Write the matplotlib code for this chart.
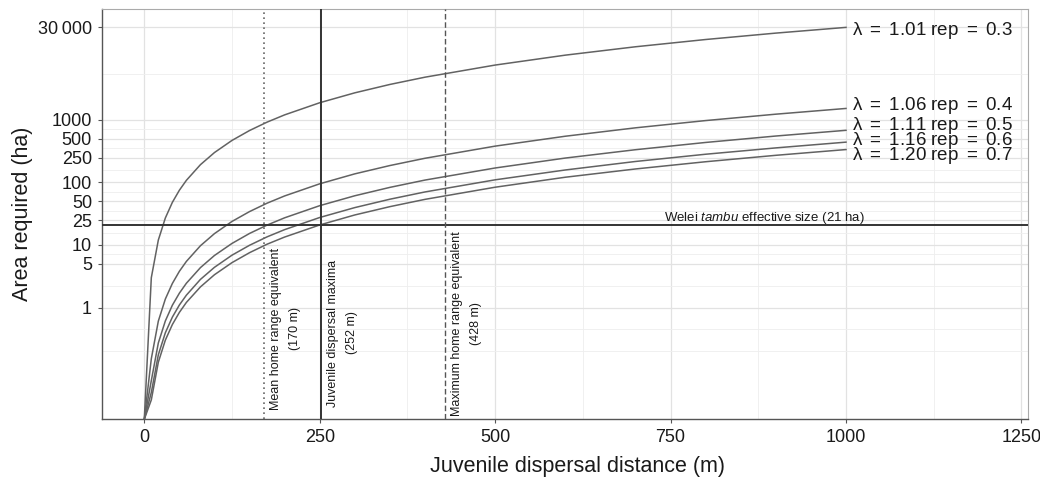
import matplotlib
matplotlib.use('Agg')
import matplotlib.pyplot as plt
import numpy as np
from matplotlib import transforms
from matplotlib.ticker import FixedLocator, NullFormatter

plt.rcParams['font.family'] = ['Liberation Sans', 'DejaVu Sans']
plt.rcParams['mathtext.fontset'] = 'custom'
plt.rcParams['mathtext.rm'] = 'Liberation Sans'
plt.rcParams['mathtext.it'] = 'Liberation Sans:italic'

# juvenile dispersal distance (m)
distance = [0, 10, 20, 30, 40, 50, 60, 80, 100, 125, 150, 175, 200,
            250, 300, 350, 400, 500, 600, 700, 800, 900, 1000]

# area required (ha)
area_l101 = [0, 3, 12, 27, 48, 75, 108, 192, 300, 469, 675, 919, 1200,
             1875, 2700, 3675, 4800, 7500, 10800, 14700, 19200, 24300, 30000]
area_l106 = [0, 0.152, 0.608, 1.37, 2.43, 3.8, 5.47, 9.73, 15.2, 23.8, 34.2, 46.6, 60.8,
             95, 137, 186, 243, 380, 547, 745, 973, 1231, 1520]
area_l111 = [0, 0.068, 0.272, 0.612, 1.09, 1.7, 2.45, 4.35, 6.8, 10.6, 15.3, 20.8, 27.2,
             42.5, 61.2, 83.3, 109, 170, 245, 333, 435, 551, 680]
area_l116 = [0, 0.044, 0.176, 0.396, 0.704, 1.1, 1.58, 2.82, 4.4, 6.88, 9.9, 13.5, 17.6,
             27.5, 39.6, 53.9, 70.4, 110, 158, 216, 282, 356, 440]
area_l120 = [0, 0.0335, 0.134, 0.302, 0.536, 0.838, 1.21, 2.14, 3.35, 5.23, 7.54, 10.3, 13.4,
             20.9, 30.2, 41.0, 53.6, 83.8, 121, 164, 214, 271, 335]

lambdas = ['1.01', '1.06', '1.11', '1.16', '1.20']
reps = ['0.3', '0.4', '0.5', '0.6', '0.7']
label_y = [26500, 1720, 810, 462, 272]   # where the labels sit (nudged apart)

home_mean = 170
juv_max = 252
home_max = 428
tambu_size = 21

y_breaks = [1, 5, 10, 25, 50, 100, 250, 500, 1000, 30000]
y_labels = ['1', '5', '10', '25', '50', '100', '250', '500', '1000', '30\u2009000']
x_breaks = [0, 250, 500, 750, 1000, 1250]

fig = plt.figure(figsize=(10.4, 4.8), dpi=100)
ax = fig.add_axes([101.7 / 1040, 60.7 / 480, 926.6 / 1040, 410 / 480])

ylo, yhi = 10 ** -1.785, 10 ** 4.766
ax.set_yscale('log')
ax.set_ylim(ylo, yhi)
ax.set_xlim(-60.7, 1259.8)

curves = [area_l101, area_l106, area_l111, area_l116, area_l120]
for vals in curves:
    v = np.array(vals, dtype=float)
    v[v <= 0] = ylo   # log(0) drawn at the panel edge
    ax.plot(distance, v, color='#626262', lw=1.1, zorder=3)

for lam, rep, yy in zip(lambdas, reps, label_y):
    ax.text(1008, yy, r'$\mathrm{\lambda}\ =\ \mathrm{%s\ rep}\ =\ \mathrm{%s}$' % (lam, rep),
            ha='left', va='center', fontsize=13.5, color='#1a1a1a', zorder=4)

# reference lines
ax.axhline(tambu_size, color='#333333', lw=1.4, zorder=3)
ax.axvline(home_mean, color='#666666', lw=1.2, ls=(0, (1, 2)), zorder=3)
ax.axvline(juv_max, color='#333333', lw=1.4, zorder=3)
ax.axvline(home_max, color='#555555', lw=1.0, ls=(0, (4, 2)), zorder=3)

ax.annotate(r'Welei $\mathit{tambu}$ effective size (21 ha)', xy=(1027, tambu_size),
            xytext=(0, 3), textcoords='offset points', ha='right', va='baseline',
            fontsize=9.5, color='#1a1a1a')

trans = transforms.blended_transform_factory(ax.transData, ax.transAxes)
vtexts = [(home_mean, 'Mean home range equivalent\n(170 m)', 0.023),
          (juv_max, 'Juvenile dispersal maxima\n(252 m)', 0.031),
          (home_max, 'Maximum home range equivalent\n(428 m)', 0.008)]
for xv, txt, yb in vtexts:
    ax.text(xv + 8.5, yb, txt, transform=trans, rotation=90, ha='left', va='bottom',
            multialignment='center', fontsize=9, linespacing=1.8, color='#1a1a1a')

# axes, ticks and grid
ax.set_yticks(y_breaks)
ax.set_yticklabels(y_labels)
lb = np.log10(y_breaks)
minor = list(10 ** ((lb[:-1] + lb[1:]) / 2))
ext = lb[0] - (lb[1] - lb[0])
minor += [10 ** ext, 10 ** ((ext + lb[0]) / 2)]
ax.yaxis.set_minor_locator(FixedLocator(minor))
ax.yaxis.set_minor_formatter(NullFormatter())
ax.set_xticks(x_breaks)
ax.xaxis.set_minor_locator(FixedLocator([125, 375, 625, 875, 1125]))

ax.tick_params(which='major', length=3, width=0.8, color='#555555', labelsize=13,
               labelcolor='#1a1a1a', pad=4)
ax.tick_params(which='minor', length=0)
ax.grid(which='major', color='#e2e2e2', lw=0.9)
ax.grid(which='minor', color='#eeeeee', lw=0.6)
ax.set_axisbelow(True)

for s in ['left', 'bottom']:
    ax.spines[s].set_color('#555555')
    ax.spines[s].set_linewidth(1.0)
for s in ['top', 'right']:
    ax.spines[s].set_color('#aaaaaa')
    ax.spines[s].set_linewidth(0.8)

ax.set_ylabel('Area required (ha)', fontsize=15.5, color='#1a1a1a', va='center')
ax.yaxis.set_label_coords(-0.085, 0.5)
ax.set_xlabel('Juvenile dispersal distance (m)', fontsize=15.5, color='#1a1a1a', va='center')
ax.xaxis.set_label_coords(0.513, -0.1156)

fig.savefig('out.png', dpi=100)
